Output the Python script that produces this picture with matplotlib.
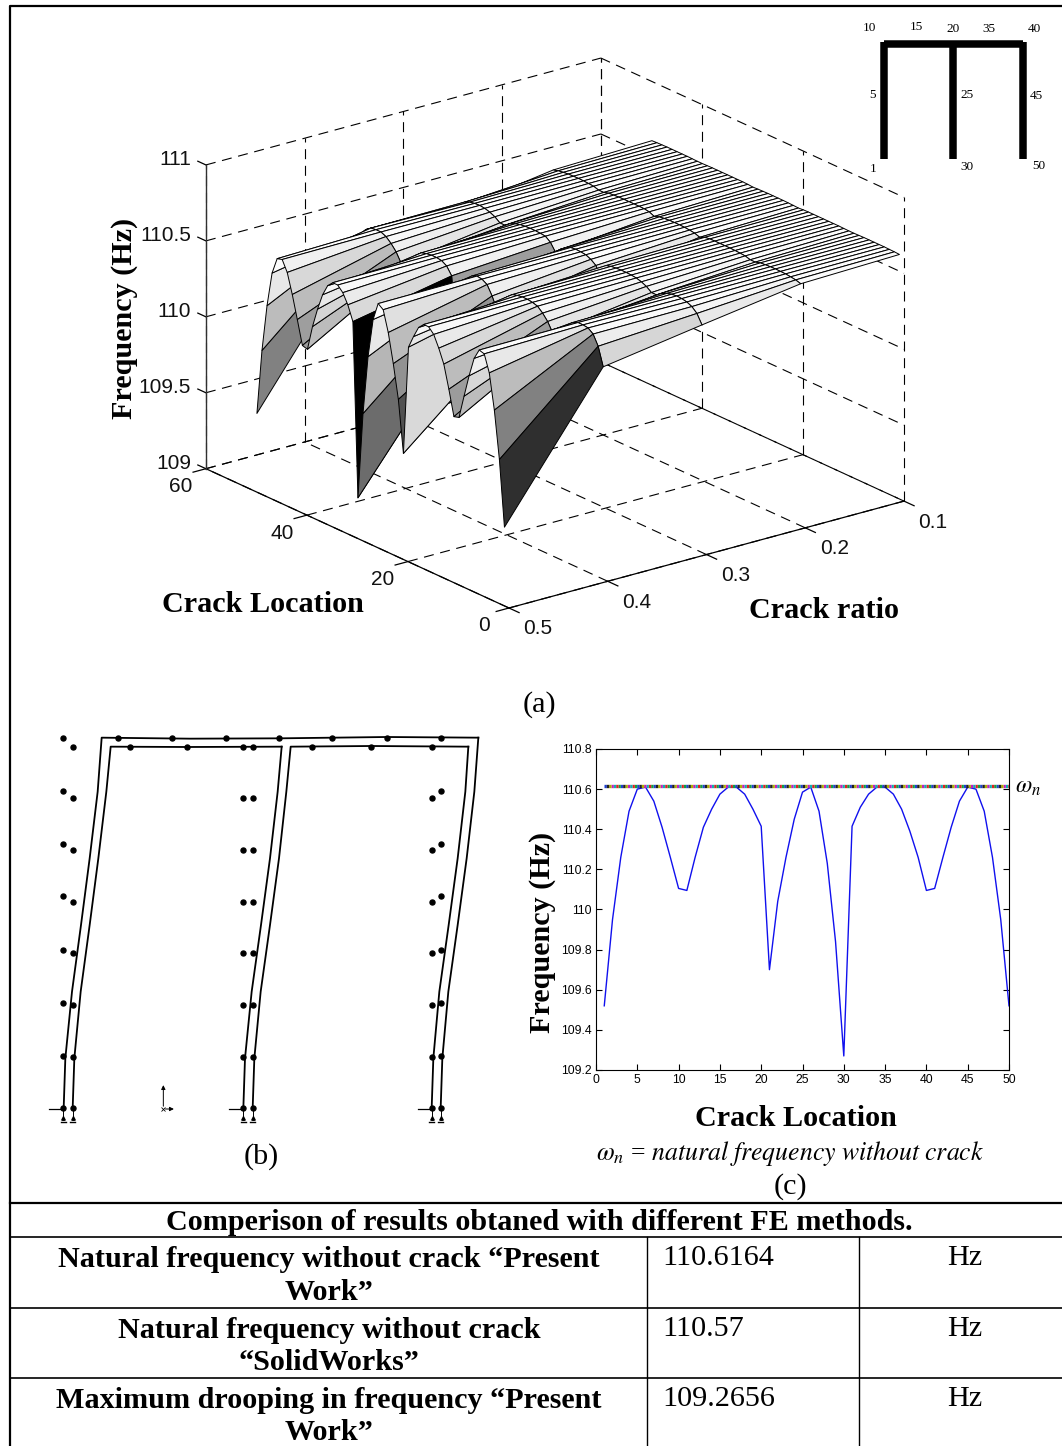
import numpy as np
import matplotlib
matplotlib.use('Agg')
import matplotlib.pyplot as plt
from mpl_toolkits.mplot3d import proj3d

plt.rcParams['mathtext.fontset'] = 'stix'
SERIF = 'Liberation Serif'
SANS = 'Liberation Sans'

# surface data, one list per crack ratio, crack location 1..50
crack_location = list(range(1, 51))
crack_ratio = [0.5, 0.4, 0.3, 0.2, 0.1]
freq_r05 = [109.52, 109.95, 110.26, 110.49, 110.60, 110.61, 110.54, 110.41, 110.26, 110.105,
            110.095, 110.26, 110.41, 110.50, 110.575, 110.61, 110.61, 110.575, 110.50, 110.415,
            109.70, 110.04, 110.26, 110.45, 110.585, 110.61, 110.49, 110.23, 109.84, 109.27,
            110.415, 110.51, 110.575, 110.61, 110.61, 110.575, 110.50, 110.39, 110.26, 110.095,
            110.105, 110.26, 110.41, 110.54, 110.61, 110.60, 110.49, 110.26, 109.95, 109.52]
freq_r04 = [110.40, 110.52, 110.585, 110.61, 110.615, 110.615, 110.60, 110.57, 110.53, 110.47,
            110.47, 110.53, 110.57, 110.60, 110.61, 110.615, 110.615, 110.61, 110.60, 110.57,
            110.25, 110.45, 110.53, 110.59, 110.61, 110.615, 110.60, 110.54, 110.40, 110.10,
            110.54, 110.59, 110.61, 110.615, 110.615, 110.61, 110.60, 110.57, 110.53, 110.47,
            110.47, 110.53, 110.57, 110.60, 110.615, 110.615, 110.61, 110.585, 110.52, 110.40]
freq_r03 = [110.50, 110.56, 110.59, 110.605, 110.612, 110.614, 110.61, 110.60, 110.585, 110.56,
            110.56, 110.585, 110.60, 110.61, 110.614, 110.616, 110.616, 110.614, 110.61, 110.60,
            110.50, 110.57, 110.595, 110.61, 110.614, 110.616, 110.612, 110.595, 110.57, 110.535,
            110.585, 110.61, 110.614, 110.616, 110.616, 110.614, 110.61, 110.60, 110.585, 110.56,
            110.56, 110.585, 110.60, 110.61, 110.614, 110.612, 110.605, 110.59, 110.56, 110.50]
freq_r02 = [110.595, 110.605, 110.61, 110.614, 110.615, 110.616, 110.615, 110.613, 110.61, 110.60,
            110.60, 110.61, 110.613, 110.615, 110.616, 110.616, 110.616, 110.616, 110.615, 110.61,
            110.595, 110.607, 110.612, 110.615, 110.616, 110.616, 110.615, 110.612, 110.607, 110.595,
            110.61, 110.615, 110.616, 110.616, 110.616, 110.616, 110.615, 110.613, 110.61, 110.60,
            110.60, 110.61, 110.613, 110.615, 110.616, 110.615, 110.614, 110.61, 110.605, 110.595]
freq_r01 = [110.612, 110.614, 110.615, 110.616, 110.616, 110.616, 110.616, 110.616, 110.615, 110.614,
            110.614, 110.615, 110.616, 110.616, 110.616, 110.616, 110.616, 110.616, 110.616, 110.615,
            110.612, 110.614, 110.615, 110.616, 110.616, 110.616, 110.616, 110.615, 110.614, 110.612,
            110.615, 110.616, 110.616, 110.616, 110.616, 110.616, 110.616, 110.616, 110.615, 110.614,
            110.614, 110.615, 110.616, 110.616, 110.616, 110.616, 110.616, 110.615, 110.614, 110.612]
natural_freq = [110.6164] * 50

ratio_ticks = [0.1, 0.2, 0.3, 0.4, 0.5]
loc_ticks = [0, 20, 40, 60]
z_ticks = [109, 109.5, 110, 110.5, 111]
z_labels = ['109', '109.5', '110', '110.5', '111']
c_xticks = [0, 5, 10, 15, 20, 25, 30, 35, 40, 45, 50]
c_yticks = [109.2, 109.4, 109.6, 109.8, 110, 110.2, 110.4, 110.6, 110.8]
c_ylabels = ['109.2', '109.4', '109.6', '109.8', '110', '110.2', '110.4', '110.6', '110.8']
dot_colors = ['#1f3fd0', '#10a040', '#e02020', '#10b0b0', '#c020c0', '#b0b000', '#202020']

# panel b, in pixels of the crop of that panel (3x)
b_lines = [
    ([101, 106, 126, 153, 179, 203, 215, 480, 750, 1070, 1345], [1150, 1000, 800, 600, 400, 200, 38, 41, 40, 36, 38]),
    ([128, 133, 152, 179, 205, 229, 242, 470, 755], [1150, 1000, 800, 600, 400, 200, 65, 66, 65]),
    ([640, 645, 665, 693, 720, 743, 755], [1150, 1000, 800, 600, 400, 200, 65]),
    ([668, 673, 692, 720, 747, 769, 782, 1024, 1315], [1150, 1000, 800, 600, 400, 200, 65, 63, 65]),
    ([1205, 1210, 1228, 1256, 1283, 1306, 1315], [1150, 1000, 800, 600, 400, 200, 65]),
    ([1232, 1237, 1255, 1283, 1310, 1333, 1345], [1150, 1000, 800, 600, 400, 200, 38]),
]
b_dots_x = [100] * 8 + [128] * 8 + [640] * 8 + [668] * 8 + [1205] * 8 + [1232] * 8 \
    + [264, 425, 587, 748, 907, 1070] + [300, 470, 846, 1024]
b_dots_y = [38, 197, 356, 514, 674, 833, 992, 1150] + [65, 220, 376, 530, 685, 840, 995, 1150] \
    + [65, 220, 376, 530, 685, 840, 995, 1150] + [65, 220, 376, 530, 685, 840, 995, 1150] \
    + [65, 220, 376, 530, 685, 840, 995, 1150] + [38, 197, 356, 514, 674, 833, 992, 1150] \
    + [38, 38, 38, 38, 38, 38] + [65, 65, 65, 65]
support_x = [100, 128, 640, 668, 1205, 1232]

# inset beam, in pixels of the crop of that inset (3x)
beam_x = [103, 310, 518]
beam_top = 102
beam_bottom = 447
beam_labels = ['10', '15', '20', '35', '40', '5', '25', '45', '1', '30', '50']
beam_label_x = [58, 198, 310, 418, 553, 67, 350, 560, 68, 350, 565]
beam_label_y = [55, 50, 58, 58, 57, 255, 255, 257, 478, 470, 467]

# table
table_rows = [1237, 1308, 1378]
table_cols = [647, 859]
table_title = 'Comperison of results obtaned with different FE methods.'
row_text = ['Natural frequency without crack \u201cPresent\nWork\u201d',
            'Natural frequency without crack\n\u201cSolidWorks\u201d',
            'Maximum drooping in frequency \u201cPresent\nWork\u201d']
row_values = ['110.6164', '110.57', '109.2656']

W, H = 1062, 1446
fig = plt.figure(figsize=(W / 100, H / 100), dpi=100, facecolor='white')

# ---- (a) surface ----
ax3d = fig.add_axes([0, 0, 0.7, 0.7 * W / H], projection='3d', proj_type='ortho', computed_zorder=False)
ax3d.set_axis_off()
ax3d.patch.set_alpha(0)
ax3d.set_autoscale_on(False)
ax3d.set_xlim(0.5, 0.1)
ax3d.set_ylim(0, 60)
ax3d.set_zlim(109, 111)
ax3d.set_box_aspect((1, 1, 0.652))
ax3d.view_init(elev=20.65, azim=-127.5)


def to_px(x, y, z):
    xs, ys, _ = proj3d.proj_transform(x, y, z, ax3d.get_proj())
    px = ax3d.transData.transform((xs, ys))
    return px[0], H - px[1]


# fit the box on the page: near corner and right corner of the floor
ax3d.apply_aspect()
p0 = to_px(0.5, 0, 109)
p1 = to_px(0.1, 0, 109)
side = 0.7 * W * 395 / (p1[0] - p0[0])
ax3d.set_position([0, 0, side / W, side / H])
ax3d.apply_aspect()
p0 = to_px(0.5, 0, 109)
ax3d.set_position([(509 - p0[0]) / W, (p0[1] - 608) / H, side / W, side / H])
ax3d.apply_aspect()

dash = dict(color='black', lw=0.8, ls=(0, (9, 6)), zorder=1)
solid = dict(color='black', lw=0.9, zorder=1000)
for r in ratio_ticks:
    ax3d.plot([r, r], [0, 60], [109, 109], **dash)
    ax3d.plot([r, r], [60, 60], [109, 111], **dash)
    ax3d.plot([r, r], [0, -2], [109, 109], **solid)
for loc in loc_ticks:
    ax3d.plot([0.5, 0.1], [loc, loc], [109, 109], **dash)
    ax3d.plot([0.1, 0.1], [loc, loc], [109, 111], **dash)
    ax3d.plot([0.5, 0.513], [loc, loc], [109, 109], **solid)
for z in z_ticks:
    ax3d.plot([0.5, 0.1], [60, 60], [z, z], **dash)
    ax3d.plot([0.1, 0.1], [60, 0], [z, z], **dash)
    ax3d.plot([0.5, 0.5], [60, 61.6], [z, z], **solid)
ax3d.plot([0.5, 0.1], [0, 0], [109, 109], **solid)
ax3d.plot([0.5, 0.5], [0, 60], [109, 109], **solid)
ax3d.plot([0.5, 0.5], [60, 60], [109, 111], color='#303030', lw=1.0, zorder=1000)

X, Y = np.meshgrid(crack_location, crack_ratio)
Z = np.array([freq_r05, freq_r04, freq_r03, freq_r02, freq_r01])
shade = plt.cm.gray((Z - Z.min()) / (Z.max() - Z.min()))
# one quad at a time, back to front, the depth sort of a single surface gets the spikes wrong
for j in range(48, -1, -1):
    for i in range(3, -1, -1):
        ax3d.plot_surface(Y[i:i + 2, j:j + 2], X[i:i + 2, j:j + 2], Z[i:i + 2, j:j + 2],
                          facecolors=shade[i:i + 2, j:j + 2], rstride=1, cstride=1, shade=False,
                          edgecolor='black', linewidth=0.7, zorder=2 + (48 - j) * 4 + (3 - i))

# ---- (c) frequency curve ----
axc = fig.add_axes([596 / W, 1 - 1070 / H, 413 / W, 321 / H])
axc.plot(crack_location, freq_r05, color='#1010ee', lw=1.0)
for i, col in enumerate(dot_colors):
    axc.plot(crack_location, natural_freq, color=col, lw=2.4, ls=(i * 0.7, (0.7, 4.2)))
axc.set_xlim(0, 50)
axc.set_ylim(109.2, 110.8)
axc.set_xticks(c_xticks)
axc.set_yticks(c_yticks)
axc.set_yticklabels(c_ylabels)
axc.tick_params(direction='in', length=4, width=0.8, top=True, right=True, labelsize=8.8, pad=3)
for lab in axc.get_xticklabels() + axc.get_yticklabels():
    lab.set_fontfamily(SANS)

# ---- (b) deformed frame ----
axb = fig.add_axes([30 / W, 1 - 1135 / H, 470 / W, 410 / H], zorder=3)
axb.set_xlim(0, 1410)
axb.set_ylim(1230, 0)
axb.axis('off')
for xs, ys in b_lines:
    axb.plot(xs, ys, color='black', lw=1.3)
axb.plot(b_dots_x, b_dots_y, 'o', color='black', ms=3.6)
for sx in support_x:
    axb.plot([sx, sx], [1150, 1185], color='black', lw=0.7)
    axb.plot([sx - 7, sx + 7], [1192, 1192], color='black', lw=1.0)
    axb.plot([sx], [1178], '^', color='black', ms=2.5)
for sx in support_x[0::2]:
    axb.plot([sx - 42, sx], [1153, 1153], color='black', lw=0.9)
axb.annotate('', xy=(400, 1072), xytext=(400, 1152), arrowprops=dict(arrowstyle='-|>', color='black', lw=0.7, mutation_scale=6))
axb.annotate('', xy=(440, 1152), xytext=(398, 1152), arrowprops=dict(arrowstyle='-|>', color='black', lw=0.7, mutation_scale=6))
axb.plot([400], [1152], 'x', color='black', ms=3, mew=0.6)

# ---- inset beam ----
axi = fig.add_axes([850 / W, 1 - 185 / H, 212 / W, 175 / H], zorder=5)
axi.set_xlim(0, 636)
axi.set_ylim(525, 0)
axi.axis('off')
for bx in beam_x:
    axi.plot([bx, bx], [beam_top - 5, beam_bottom], color='black', lw=5.4, solid_capstyle='butt')
axi.plot([beam_x[0], beam_x[-1]], [beam_top, beam_top], color='black', lw=5.4, solid_capstyle='butt')
for t, lx, ly in zip(beam_labels, beam_label_x, beam_label_y):
    axi.text(lx, ly, t, family=SERIF, fontsize=9.5, ha='center', va='center')

# ---- page: frame, table and all free text ----
page = fig.add_axes([0, 0, 1, 1], zorder=10)
page.set_xlim(0, W)
page.set_ylim(H, 0)
page.axis('off')
page.patch.set_alpha(0)

page.plot([10, 10, W], [H, 6, 6], color='black', lw=1.6)
page.plot([10, W], [1203, 1203], color='black', lw=1.6)
for y in table_rows:
    page.plot([10, W], [y, y], color='black', lw=1.2)
for x in table_cols:
    page.plot([x, x], [table_rows[0], H], color='black', lw=1.0)


def serif(x, y, s, **kw):
    kw.setdefault('fontsize', 21.7)
    page.text(x, y, s, family=SERIF, ha=kw.pop('ha', 'center'), va=kw.pop('va', 'center'), **kw)


for i, z in enumerate(z_ticks):
    px, py = to_px(0.5, 60, z)
    page.text(px - 15, py - 5, z_labels[i], family=SANS, fontsize=15, ha='right', va='center', color='#111111')
for loc in loc_ticks:
    px, py = to_px(0.5, loc, 109)
    page.text(px - 25, py + 18, str(loc), family=SANS, fontsize=15, ha='center', va='center', color='#111111')
for r in ratio_ticks:
    px, py = to_px(r, 0, 109)
    page.text(px + 29, py + 21, str(r), family=SANS, fontsize=15, ha='center', va='center', color='#111111')

serif(263, 604, 'Crack Location', weight='bold')
serif(824, 611, 'Crack ratio', weight='bold')
serif(124, 318, 'Frequency (Hz)', weight='bold', rotation=90)
serif(539, 705, '(a)')
serif(261, 1157, '(b)')
serif(542, 932, 'Frequency (Hz)', weight='bold', rotation=90)
serif(796, 1119, 'Crack Location', weight='bold')
serif(790, 1187, '(c)')
serif(1028, 787, r'$\omega_n$', fontsize=17)
serif(790, 1154, r'$\omega_n$ = $natural\ frequency\ without\ crack$', fontsize=18.5)

serif(539, 1223, table_title, weight='bold')
centers = [1276, 1346.5, 1416.5]
for s, v, yc in zip(row_text, row_values, centers):
    serif(329, yc, s, weight='bold', linespacing=1.28)
    serif(662, yc - 18, v, ha='left')
    serif(965, yc - 18, 'Hz')

fig.savefig('out.png', dpi=100)
